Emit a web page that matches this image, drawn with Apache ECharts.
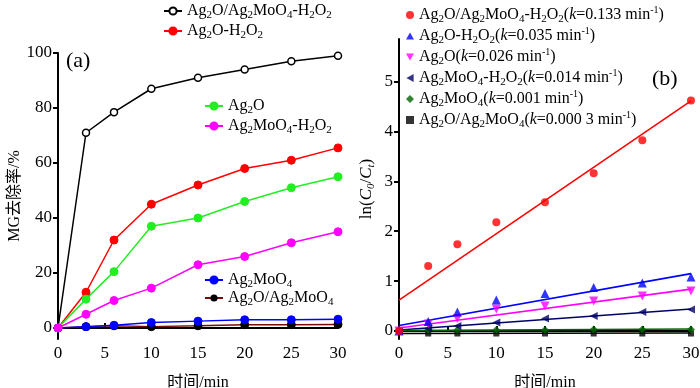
<!DOCTYPE html>
<html><head><meta charset="utf-8">
<script src="https://cdn.jsdelivr.net/npm/echarts@6/dist/echarts.min.js"></script>
<style>html,body{margin:0;padding:0;background:#fff}#c{width:700px;height:388px}</style>
</head><body><div id="c"></div>
<script>
// ---- data (panel a) ----
const timeMin = [0, 3, 6, 10, 15, 20, 25, 30];
const xTicks = [0, 5, 10, 15, 20, 25, 30];
const yTicksA = [0, 20, 40, 60, 80, 100];
const yTicksB = [0, 1, 2, 3, 4, 5];
const remCompositeH2O2 = [0, 71, 78.5, 87, 91, 94, 97, 99];
const remAg2OH2O2 = [0, 13, 32, 45, 52, 58, 61, 65.5];
const remAg2O = [0, 10.5, 20.5, 37, 40, 46, 51, 55];
const remAg2MoO4H2O2 = [0, 5, 10, 14.5, 23, 26, 31, 35];
const remAg2MoO4 = [0, 0.5, 1, 2, 2.5, 3, 3, 3.2];
const remComposite = [0, 0.5, 0.8, 0.5, 0.8, 1.2, 1.2, 1.3];
// ---- data (panel b) ----
const lnCompositeH2O2 = [0, 1.3, 1.74, 2.18, 2.58, 3.16, 3.82, 4.62];
const lnAg2OH2O2 = [0, 0.19, 0.38, 0.62, 0.75, 0.87, 0.96, 1.08];
const lnAg2O = [0, 0.14, 0.25, 0.44, 0.5, 0.6, 0.7, 0.8];
const lnAg2MoO4H2O2 = [0, 0.05, 0.1, 0.17, 0.25, 0.3, 0.38, 0.43];
const lnAg2MoO4 = [0, 0.02, 0.02, 0.02, 0.02, 0.03, 0.03, 0.03];
const lnComposite = [0, -0.05, -0.05, -0.05, -0.05, -0.05, -0.05, -0.05];
const fitX = [0, 30];
const fitCompositeH2O2 = [0.62, 4.61];
const fitAg2OH2O2 = [0.11, 1.15];
const fitAg2O = [0.06, 0.84];
const fitAg2MoO4H2O2 = [0.02, 0.44];
const fitAg2MoO4 = [0.01, 0.04];
const fitComposite = [-0.05, -0.04];

const SERIF = '"Liberation Serif","Times New Roman","Noto Sans CJK SC",serif';
const pair = (xs, ys) => xs.map((x, i) => [x, ys[i]]);

function mkRich(fs) {
  return {
    t: {fontFamily: SERIF, fontSize: fs, lineHeight: 20, verticalAlign: 'middle', color: '#000'},
    i: {fontFamily: SERIF, fontSize: fs, fontStyle: 'italic', lineHeight: 20, verticalAlign: 'middle', color: '#000'},
    s: {fontFamily: SERIF, fontSize: 11, lineHeight: 8, verticalAlign: 'bottom', color: '#000'},
    p: {fontFamily: SERIF, fontSize: 10, lineHeight: 10, verticalAlign: 'top', color: '#000'}
  };
}
const labels = {
  'a1': '{t|Ag}{s|2}{t|O/Ag}{s|2}{t|MoO}{s|4}{t|-H}{s|2}{t|O}{s|2}',
  'a2': '{t|Ag}{s|2}{t|O-H}{s|2}{t|O}{s|2}',
  'a3': '{t|Ag}{s|2}{t|O}',
  'a4': '{t|Ag}{s|2}{t|MoO}{s|4}{t|-H}{s|2}{t|O}{s|2}',
  'a5': '{t|Ag}{s|2}{t|MoO}{s|4}',
  'a6': '{t|Ag}{s|2}{t|O/Ag}{s|2}{t|MoO}{s|4}',
  'b1': '{t|Ag}{s|2}{t|O/Ag}{s|2}{t|MoO}{s|4}{t|-H}{s|2}{t|O}{s|2}{t|(}{i|k}{t|=0.133 min}{p|-1}{t|)}',
  'b2': '{t|Ag}{s|2}{t|O-H}{s|2}{t|O}{s|2}{t|(}{i|k}{t|=0.035 min}{p|-1}{t|)}',
  'b3': '{t|Ag}{s|2}{t|O(}{i|k}{t|=0.026 min}{p|-1}{t|)}',
  'b4': '{t|Ag}{s|2}{t|MoO}{s|4}{t|-H}{s|2}{t|O}{s|2}{t|(}{i|k}{t|=0.014 min}{p|-1}{t|)}',
  'b5': '{t|Ag}{s|2}{t|MoO}{s|4}{t|(}{i|k}{t|=0.001 min}{p|-1}{t|)}',
  'b6': '{t|Ag}{s|2}{t|O/Ag}{s|2}{t|MoO}{s|4}{t|(}{i|k}{t|=0.000 3 min}{p|-1}{t|)}'
};
function leg(names, left, top, fs, opts) {
  return Object.assign({
    data: names, left: left, top: top, orient: 'vertical', itemGap: 2,
    itemWidth: 18, itemHeight: 9, selectedMode: false, padding: 0,
    formatter: n => labels[n],
    textStyle: {fontFamily: SERIF, fontSize: fs, color: '#000', rich: mkRich(fs)}
  }, opts || {});
}

function xAxis(gi) {
  return {
    type: 'value', gridIndex: gi, min: 0, max: 30, interval: 5,
    name: '时间/min', nameLocation: 'middle', nameGap: 36,
    nameTextStyle: {fontFamily: SERIF, fontSize: 16, color: '#000'},
    axisLine: {lineStyle: {color: '#000', width: 2}},
    axisTick: {inside: true, length: 5, lineStyle: {color: '#000', width: 2}},
    axisLabel: {fontFamily: SERIF, fontSize: 17, color: '#000', margin: 6},
    splitLine: {show: false}
  };
}
function lineSeries(name, data, color, opts) {
  return Object.assign({
    name: name, type: 'line', xAxisIndex: 0, yAxisIndex: 0, data: pair(timeMin, data),
    symbol: 'circle', symbolSize: 8,
    lineStyle: {color: color, width: 1.5},
    itemStyle: {color: color, borderColor: color, borderWidth: 1},
    animation: false
  }, opts || {});
}
function scat(name, data, color, symbol, size) {
  return {
    name: name, type: 'scatter', xAxisIndex: 1, yAxisIndex: 1, data: pair(timeMin, data),
    symbol: symbol, symbolSize: size,
    itemStyle: {color: color}, animation: false, z: 3
  };
}
function fit(data, color) {
  return {
    type: 'line', xAxisIndex: 1, yAxisIndex: 1, data: pair(fitX, data),
    symbol: 'none', lineStyle: {color: color, width: 1.6}, animation: false, z: 2
  };
}
const TRI_UP = 'path://M5,0L10,9L0,9Z';
const TRI_DOWN = 'path://M0,0L10,0L5,9Z';
const TRI_LEFT = 'path://M9,0L9,10L0,5Z';

const chart = echarts.init(document.getElementById('c'), null, {renderer: 'canvas'});
chart.setOption({
  backgroundColor: '#fff',
  animation: false,
  grid: [
    {left: 58, top: 53, width: 280, height: 286, outerBoundsMode: 'none', containLabel: false},
    {left: 399, top: 39, width: 292, height: 300, outerBoundsMode: 'none', containLabel: false}
  ],
  xAxis: [xAxis(0), xAxis(1)],
  yAxis: [
    {
      type: 'value', gridIndex: 0, min: -4, max: 100,
      name: 'MG去除率/%', nameLocation: 'middle', nameGap: 31, nameRotate: 90,
      nameTextStyle: {fontFamily: SERIF, fontSize: 16, color: '#000'},
      axisLine: {lineStyle: {color: '#000', width: 2}},
      axisTick: {length: 5, lineStyle: {color: '#000', width: 2}, customValues: yTicksA},
      axisLabel: {fontFamily: SERIF, fontSize: 17, color: '#000', margin: 6, customValues: yTicksA},
      splitLine: {show: false}
    },
    {
      type: 'value', gridIndex: 1, min: -0.16, max: 5.85,
      name: '{t|ln(}{i|C}{s|0}{t|/}{i|C}{s|t}{t|)}', nameLocation: 'middle', nameGap: 22, nameRotate: 90,
      nameTextStyle: {fontFamily: SERIF, fontSize: 17, color: '#000', rich: {
        t: {fontFamily: SERIF, fontSize: 17, lineHeight: 20, verticalAlign: 'middle', color: '#000'},
        i: {fontFamily: SERIF, fontSize: 17, fontStyle: 'italic', lineHeight: 20, verticalAlign: 'middle', color: '#000'},
        s: {fontFamily: SERIF, fontSize: 11, fontStyle: 'italic', lineHeight: 8, verticalAlign: 'bottom', color: '#000'}
      }},
      axisLine: {lineStyle: {color: '#000', width: 2}},
      axisTick: {length: 5, lineStyle: {color: '#000', width: 2}, customValues: yTicksB},
      axisLabel: {fontFamily: SERIF, fontSize: 17, color: '#000', margin: 6, customValues: yTicksB},
      splitLine: {show: false}
    }
  ],
  legend: [
    leg(['a1', 'a2'], 163, 3, 16, {itemGap: 2}),
    leg(['a3', 'a4'], 204, 98, 16, {itemGap: 2}),
    leg(['a5', 'a6'], 204, 272, 16, {itemGap: 0}),
    leg(['b1', 'b2', 'b3', 'b4', 'b5', 'b6'], 406, 5, 16, {itemWidth: 8, itemHeight: 8, itemGap: 1})
  ],
  graphic: [
    {type: 'text', left: 66, top: 50, style: {text: '(a)', font: '22px "Liberation Serif"', fill: '#000'}},
    {type: 'text', left: 652, top: 68, style: {text: '(b)', font: '22px "Liberation Serif"', fill: '#000'}}
  ],
  series: [
    lineSeries('a1', remCompositeH2O2, '#000', {symbolSize: 7, itemStyle: {color: '#fff', borderColor: '#000', borderWidth: 1.5}}),
    lineSeries('a2', remAg2OH2O2, '#ff0000'),
    lineSeries('a3', remAg2O, '#22ee22'),
    lineSeries('a6', remComposite, '#000', {lineStyle: {color: '#7a0a0a', width: 1.5}, itemStyle: {color: '#000', borderColor: '#000'}}),
    lineSeries('a5', remAg2MoO4, '#0000ff'),
    lineSeries('a4', remAg2MoO4H2O2, '#ff00ff'),
    fit(fitCompositeH2O2, '#ff0000'),
    fit(fitAg2OH2O2, '#0000ff'),
    fit(fitAg2O, '#ff00ff'),
    fit(fitAg2MoO4H2O2, '#000066'),
    fit(fitAg2MoO4, '#006400'),
    fit(fitComposite, '#000'),
    scat('b6', lnComposite, '#000', 'rect', 6),
    scat('b5', lnAg2MoO4, '#006400', 'diamond', 8),
    scat('b4', lnAg2MoO4H2O2, '#000066', TRI_LEFT, 8),
    scat('b3', lnAg2O, '#ff00ff', TRI_DOWN, 9),
    scat('b2', lnAg2OH2O2, '#0000ff', TRI_UP, 9),
    scat('b1', lnCompositeH2O2, '#ff0000', 'circle', 8)
  ]
});
</script></body></html>
